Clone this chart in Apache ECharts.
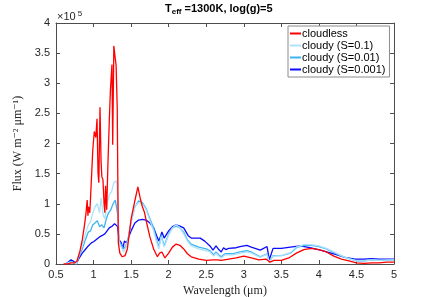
<!DOCTYPE html>
<html><head><meta charset="utf-8">
<script src="https://cdn.jsdelivr.net/npm/echarts@6/dist/echarts.min.js"></script>
<style>html,body{margin:0;padding:0;background:#fff}#c{width:436px;height:297px}</style>
</head><body><div id="c"></div>
<script>
// wavelength (um), flux (x1e5 W m^-2 um^-1)
const cloudless = [[0.60,0],[0.65,0.0],[0.70,0.02],[0.75,0.02],[0.78,0.05],[0.82,0.22],[0.85,0.4],[0.88,0.65],[0.90,0.85],[0.915,1.06],[0.925,0.8],[0.935,0.95],[0.95,0.85],[0.96,1.1],[0.975,1.5],[0.99,1.9],[1.01,2.2],[1.03,2.1],[1.046,2.41],[1.06,1.5],[1.07,1.35],[1.086,2.6],[1.10,1.7],[1.11,1.45],[1.125,1.4],[1.14,1.0],[1.15,0.85],[1.16,1.3],[1.175,0.9],[1.19,1.6],[1.21,2.4],[1.225,2.9],[1.245,3.31],[1.255,1.98],[1.27,3.62],[1.285,3.45],[1.30,3.3],[1.315,2.6],[1.33,0.35],[1.35,0.18],[1.38,0.12],[1.42,0.14],[1.45,0.25],[1.50,0.75],[1.55,1.05],[1.59,1.28],[1.62,1.1],[1.65,0.95],[1.68,0.85],[1.70,0.72],[1.75,0.45],[1.80,0.25],[1.85,0.12],[1.88,0.18],[1.91,0.2],[1.95,0.1],[2.00,0.18],[2.05,0.28],[2.10,0.33],[2.15,0.31],[2.20,0.25],[2.25,0.17],[2.30,0.12],[2.40,0.08],[2.50,0.06],[2.60,0.07],[2.65,0.07],[2.70,0.06],[2.80,0.08],[2.90,0.1],[3.00,0.13],[3.10,0.1],[3.20,0.07],[3.30,0.08],[3.35,0.03],[3.40,0.06],[3.50,0.06],[3.60,0.1],[3.70,0.18],[3.80,0.24],[3.90,0.26],[4.00,0.24],[4.10,0.2],[4.20,0.13],[4.30,0.08],[4.40,0.05],[4.50,0.02],[4.60,0.01],[4.70,0.02],[4.80,0.02],[4.90,0.03],[5.00,0.03]];
const cloudyS01 = [[0.63,0],[0.66,0.02],[0.70,0.03],[0.74,0.02],[0.77,0.0],[0.80,0.12],[0.85,0.3],[0.89,0.5],[0.93,0.65],[0.96,0.7],[0.99,0.85],[1.02,0.95],[1.05,1.0],[1.08,0.85],[1.10,1.1],[1.13,0.8],[1.15,0.75],[1.18,1.0],[1.21,1.15],[1.24,1.2],[1.27,1.35],[1.30,1.38],[1.315,1.3],[1.33,0.7],[1.34,0.33],[1.37,0.28],[1.40,0.2],[1.43,0.27],[1.46,0.4],[1.50,0.7],[1.55,0.95],[1.60,1.02],[1.65,1.0],[1.70,0.9],[1.75,0.72],[1.80,0.55],[1.84,0.36],[1.87,0.25],[1.90,0.45],[1.94,0.28],[2.00,0.48],[2.05,0.6],[2.10,0.65],[2.15,0.6],[2.20,0.5],[2.25,0.38],[2.30,0.3],[2.40,0.25],[2.50,0.22],[2.55,0.2],[2.60,0.13],[2.63,0.18],[2.67,0.13],[2.70,0.1],[2.75,0.15],[2.85,0.15],[2.95,0.18],[3.04,0.2],[3.10,0.18],[3.22,0.11],[3.31,0.16],[3.34,0.03],[3.39,0.13],[3.50,0.14],[3.62,0.19],[3.70,0.28],[3.80,0.32],[3.90,0.32],[4.00,0.3],[4.10,0.26],[4.20,0.2],[4.30,0.14],[4.40,0.09],[4.50,0.05],[4.60,0.05],[4.70,0.07],[4.80,0.06],[5.00,0.07]];
const cloudyS001 = [[0.63,0],[0.66,0.02],[0.70,0.04],[0.74,0.02],[0.77,0.0],[0.80,0.1],[0.85,0.25],[0.89,0.4],[0.93,0.53],[0.96,0.55],[0.99,0.65],[1.02,0.68],[1.05,0.72],[1.08,0.62],[1.11,0.65],[1.14,0.6],[1.17,0.75],[1.2,0.85],[1.23,0.9],[1.26,1.0],[1.29,1.06],[1.31,1.04],[1.325,0.8],[1.34,0.38],[1.37,0.32],[1.40,0.25],[1.43,0.3],[1.46,0.42],[1.50,0.7],[1.55,0.95],[1.60,1.05],[1.65,1.02],[1.70,0.92],[1.75,0.75],[1.80,0.6],[1.84,0.4],[1.87,0.28],[1.90,0.48],[1.94,0.3],[2.00,0.5],[2.05,0.6],[2.10,0.63],[2.15,0.6],[2.20,0.53],[2.25,0.4],[2.30,0.33],[2.40,0.28],[2.50,0.25],[2.55,0.22],[2.60,0.15],[2.63,0.2],[2.67,0.15],[2.70,0.12],[2.75,0.17],[2.85,0.17],[2.95,0.2],[3.04,0.22],[3.10,0.2],[3.22,0.12],[3.31,0.17],[3.34,0.03],[3.39,0.14],[3.50,0.14],[3.62,0.18],[3.70,0.27],[3.80,0.31],[3.90,0.31],[4.00,0.29],[4.10,0.25],[4.20,0.19],[4.30,0.13],[4.40,0.09],[4.50,0.05],[4.60,0.05],[4.70,0.07],[4.80,0.06],[5.00,0.07]];
const cloudyS0001 = [[0.63,0],[0.66,0.03],[0.70,0.07],[0.74,0.04],[0.77,0.0],[0.80,0.08],[0.85,0.18],[0.89,0.24],[0.93,0.3],[0.97,0.35],[1.00,0.37],[1.05,0.42],[1.08,0.45],[1.11,0.47],[1.13,0.44],[1.15,0.5],[1.18,0.55],[1.21,0.6],[1.25,0.63],[1.28,0.67],[1.30,0.68],[1.32,0.62],[1.34,0.4],[1.37,0.35],[1.39,0.25],[1.41,0.38],[1.44,0.35],[1.47,0.45],[1.50,0.55],[1.55,0.68],[1.60,0.73],[1.65,0.74],[1.70,0.73],[1.75,0.68],[1.80,0.6],[1.84,0.47],[1.87,0.38],[1.91,0.53],[1.94,0.43],[2.00,0.55],[2.05,0.62],[2.10,0.65],[2.15,0.63],[2.20,0.6],[2.26,0.47],[2.30,0.43],[2.35,0.43],[2.42,0.43],[2.48,0.38],[2.55,0.3],[2.59,0.23],[2.63,0.3],[2.66,0.25],[2.70,0.2],[2.73,0.27],[2.76,0.24],[2.80,0.26],[2.90,0.27],[2.95,0.29],[3.04,0.31],[3.10,0.28],[3.22,0.23],[3.31,0.29],[3.34,0.07],[3.39,0.26],[3.50,0.26],[3.62,0.28],[3.75,0.3],[3.88,0.27],[4.02,0.23],[4.22,0.16],[4.35,0.11],[4.48,0.08],[4.60,0.08],[4.70,0.09],[4.80,0.08],[5.00,0.08]];
const seriesNames = ['cloudless','cloudy (S=0.1)','cloudy (S=0.01)','cloudy (S=0.001)'];
const xTicks = [0.5,1,1.5,2,2.5,3,3.5,4,4.5,5];
const yTicks = [0,0.5,1,1.5,2,2.5,3,3.5,4];

const colors = ['#ff0000','#aee2fa','#3cb4f0','#0a0aff'];
const dataSets = [cloudless, cloudyS01, cloudyS001, cloudyS0001];
const axisColor = '#4d4d4d';
const sans = 'Liberation Sans, Arial, sans-serif';
const serif = 'Liberation Serif, DejaVu Serif, serif';

const chart = echarts.init(document.getElementById('c'), null, {renderer:'canvas'});
const baseX = {type:'value', min:xTicks[0], max:xTicks[xTicks.length-1], interval:0.5,
  axisLine:{show:true, onZero:false, lineStyle:{color:axisColor,width:1}},
  axisTick:{show:true, inside:true, length:4, lineStyle:{color:axisColor}},
  splitLine:{show:false}};
const baseY = {type:'value', min:yTicks[0], max:yTicks[yTicks.length-1], interval:0.5,
  axisLine:{show:true, onZero:false, lineStyle:{color:axisColor,width:1}},
  axisTick:{show:true, inside:true, length:4, lineStyle:{color:axisColor}},
  splitLine:{show:false}};
chart.setOption({
  animation:false,
  grid:{left:56, right:42, top:23, bottom:33, containLabel:false, outerBoundsMode:'none'},
  xAxis:[
    Object.assign({}, baseX, {position:'bottom', name:'Wavelength (μm)', nameLocation:'middle', nameGap:16,
      nameTextStyle:{fontFamily:serif, fontSize:12, color:'#262626'},
      axisLabel:{fontFamily:sans, fontSize:11, color:'#262626', margin:5}}),
    Object.assign({}, baseX, {position:'top', axisLabel:{show:false}})
  ],
  yAxis:[
    Object.assign({}, baseY, {position:'left', name:'Flux (W m⁻² μm⁻¹)', nameLocation:'middle', nameGap:29,
      nameTextStyle:{fontFamily:serif, fontSize:12, color:'#262626'},
      axisLabel:{fontFamily:sans, fontSize:11, color:'#262626', margin:6}}),
    Object.assign({}, baseY, {position:'right', axisLabel:{show:false}})
  ],
  legend:{orient:'vertical', left:288, top:26, padding:[2,4,2,2], itemGap:1,
    backgroundColor:'#fff', borderColor:'#8c8c8c', borderWidth:1,
    itemWidth:11, itemHeight:2, icon:'rect',
    textStyle:{fontFamily:sans, fontSize:11, color:'#000', padding:[0,0,0,-4]},
    data:seriesNames},
  series:seriesNames.map((n,i)=>({name:n, type:'line', data:dataSets[i], showSymbol:false,
    symbol:'none', lineStyle:{color:colors[i], width:1.3}, itemStyle:{color:colors[i]}, z:10-i})),
  graphic:[
    {type:'text', left:57, top:10, style:{text:'{a|×10}{b|5}', rich:{a:{fontFamily:sans,fontSize:11,fill:'#262626'},b:{fontFamily:sans,fontSize:8,fill:'#262626',verticalAlign:'top',padding:[0,0,6,2]}}}},
    {type:'text', left:165, top:3, style:{text:'{a|T}{b|eff}{a| =1300K, log(g)=5}', rich:{a:{fontFamily:sans,fontSize:11,fontWeight:'bold',fill:'#000'},b:{fontFamily:sans,fontSize:8,fontWeight:'bold',fill:'#000',padding:[7,0,0,0]}}}}
  ]
});
</script></body></html>
